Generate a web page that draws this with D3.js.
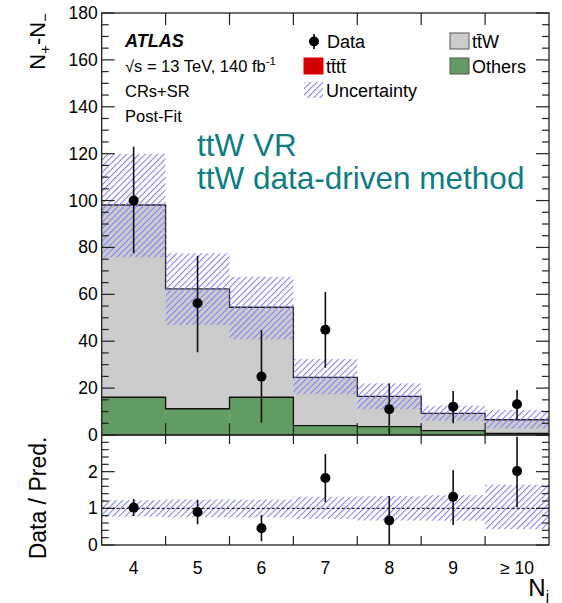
<!DOCTYPE html>
<html><head><meta charset="utf-8">
<script src="https://cdn.jsdelivr.net/npm/d3@7"></script>
<style>body{margin:0;background:#fff}svg{display:block}text{font-family:"Liberation Sans",Arial,sans-serif}</style>
</head><body>
<svg id="c" width="562" height="603"></svg>
<script>
// ---- data ----
const categories = ["4","5","6","7","8","9","\u2265 10"];
const others = [16.1, 11.2, 16.1, 4.0, 3.6, 1.9, 0.7];
const tttt   = [0.2, 0.2, 0.2, 0.2, 0.1, 0.1, 0.1];
const ttW    = [81.8, 50.9, 38.2, 20.4, 12.8, 7.2, 5.7];
const uncLo  = [75.8, 46.9, 40.8, 17.4, 11.0, 6.1, 2.8];
const uncHi  = [119.9, 77.5, 67.5, 32.4, 22.0, 12.5, 10.7];
const dataVal= [100, 56.2, 24.9, 44.9, 11.0, 12.1, 13.1];
const dataLo = [77.5, 35.3, 5.3, 28.7, 0, 5.0, 6.7];
const dataHi = [123, 76.5, 44.8, 61.0, 22.0, 18.8, 19.2];
const yTicksMain = [0,20,40,60,80,100,120,140,160,180];
const yTicksRatio = [0,1,2];

// ---- layout ----
const svg = d3.select("#c");
const L = 101.7, R = 549, T = 13, M = 435, B = 545;
const x = d3.scaleBand().domain(categories).range([L, R]).padding(0);
const y = d3.scaleLinear().domain([0, 180]).range([M, T]);
const yr = d3.scaleLinear().domain([0, 3]).range([B, M]);
const bw = x.bandwidth();

const defs = svg.append("defs");
const pat = defs.append("pattern").attr("id","hatch").attr("patternUnits","userSpaceOnUse")
  .attr("width",4.4).attr("height",10).attr("patternTransform","rotate(45)");
pat.append("rect").attr("x",0).attr("y",0).attr("width",1.05).attr("height",10).attr("fill","#7e7ef6");
defs.append("clipPath").attr("id","clipMain").append("rect").attr("x",L).attr("y",T).attr("width",R-L).attr("height",M-T);
defs.append("clipPath").attr("id","clipRatio").append("rect").attr("x",L).attr("y",M).attr("width",R-L).attr("height",B-M);

const rows = categories.map((c,i)=>({cat:c, others:others[i], tttt:tttt[i], ttW:ttW[i]}));
const keys = ["others","tttt","ttW"];
const colors = {others:"#629c62", tttt:"#d40000", ttW:"#cccccc"};
const stack = d3.stack().keys(keys)(rows);

const gMain = svg.append("g").attr("clip-path","url(#clipMain)");
stack.forEach(layer=>{
  gMain.selectAll(null).data(layer).enter().append("rect")
    .attr("x",d=>x(d.data.cat)).attr("width",bw+0.3)
    .attr("y",d=>y(d[1])).attr("height",d=>y(d[0])-y(d[1]))
    .attr("fill",colors[layer.key]);
});
// step outlines
const line = d3.line();
function stepPts(vals, sc){
  const pts=[];
  categories.forEach((c,i)=>{pts.push([x(c),sc(vals[i])]);pts.push([x(c)+bw,sc(vals[i])]);});
  return pts;
}
const totals = rows.map(r=>r.others+r.tttt+r.ttW);
gMain.append("path").attr("d",line(stepPts(others,y))).attr("fill","none").attr("stroke","#111").attr("stroke-width",1.3);
gMain.append("path").attr("d",line(stepPts(totals,y))).attr("fill","none").attr("stroke","#222").attr("stroke-width",1.3);
// uncertainty
gMain.selectAll(null).data(categories).enter().append("rect")
  .attr("x",c=>x(c)).attr("width",bw)
  .attr("y",(c,i)=>y(uncHi[i])).attr("height",(c,i)=>y(uncLo[i])-y(uncHi[i]))
  .attr("fill","url(#hatch)");
// data
categories.forEach((c,i)=>{
  const cx = x(c)+bw/2;
  gMain.append("line").attr("x1",cx).attr("x2",cx).attr("y1",y(dataLo[i])).attr("y2",y(dataHi[i]))
    .attr("stroke","#111").attr("stroke-width",1.6);
  gMain.append("circle").attr("cx",cx).attr("cy",y(dataVal[i])).attr("r",5).attr("fill","#000");
});

// ratio panel
const gR = svg.append("g").attr("clip-path","url(#clipRatio)");
gR.selectAll(null).data(categories).enter().append("rect")
  .attr("x",c=>x(c)).attr("width",bw)
  .attr("y",(c,i)=>yr(uncHi[i]/totals[i])).attr("height",(c,i)=>yr(uncLo[i]/totals[i])-yr(uncHi[i]/totals[i]))
  .attr("fill","url(#hatch)");
gR.append("line").attr("x1",L).attr("x2",R).attr("y1",yr(1)).attr("y2",yr(1))
  .attr("stroke","#000").attr("stroke-width",1).attr("stroke-dasharray","3,2");
categories.forEach((c,i)=>{
  const cx = x(c)+bw/2;
  gR.append("line").attr("x1",cx).attr("x2",cx).attr("y1",yr(dataLo[i]/totals[i])).attr("y2",yr(dataHi[i]/totals[i]))
    .attr("stroke","#111").attr("stroke-width",1.6);
  gR.append("circle").attr("cx",cx).attr("cy",yr(dataVal[i]/totals[i])).attr("r",5).attr("fill","#000");
});

// ---- axes ----
const axCol = "#222";
const edges = categories.map(c=>x(c)).concat([R]);
const gA = svg.append("g").attr("stroke",axCol).attr("stroke-width",1.2);
d3.range(0,181,5).forEach(v=>{
  const len = v%20===0 ? 13 : 7;
  gA.append("line").attr("x1",L).attr("x2",L+len).attr("y1",y(v)).attr("y2",y(v));
  gA.append("line").attr("x1",R).attr("x2",R-len).attr("y1",y(v)).attr("y2",y(v));
});
d3.range(0,3.01,0.2).forEach(v=>{
  const major = Math.abs(v-Math.round(v))<1e-6;
  const len = major ? 13 : 7;
  gA.append("line").attr("x1",L).attr("x2",L+len).attr("y1",yr(v)).attr("y2",yr(v));
  gA.append("line").attr("x1",R).attr("x2",R-len).attr("y1",yr(v)).attr("y2",yr(v));
});
edges.slice(1,-1).forEach(e=>{
  gA.append("line").attr("x1",e).attr("x2",e).attr("y1",T).attr("y2",T+12);
  gA.append("line").attr("x1",e).attr("x2",e).attr("y1",M).attr("y2",M-12);
  gA.append("line").attr("x1",e).attr("x2",e).attr("y1",M).attr("y2",M+9);
  gA.append("line").attr("x1",e).attr("x2",e).attr("y1",B).attr("y2",B-9);
});
svg.append("rect").attr("x",L).attr("y",T).attr("width",R-L).attr("height",M-T).attr("fill","none").attr("stroke",axCol).attr("stroke-width",1.3);
svg.append("rect").attr("x",L).attr("y",M).attr("width",R-L).attr("height",B-M).attr("fill","none").attr("stroke",axCol).attr("stroke-width",1.3);

// tick labels
const fs = 17.5;
svg.selectAll(null).data(yTicksMain).enter().append("text")
  .attr("x",L-4).attr("y",v=>y(v)+6).attr("text-anchor","end").attr("font-size",fs).text(v=>v);
svg.selectAll(null).data(yTicksRatio).enter().append("text")
  .attr("x",L-4).attr("y",v=>yr(v)+6).attr("text-anchor","end").attr("font-size",fs).text(v=>v);
svg.selectAll(null).data(categories).enter().append("text")
  .attr("x",c=>x(c)+bw/2).attr("y",574).attr("text-anchor","middle").attr("font-size",fs).text(c=>c);

// axis titles
const yt = svg.append("text").attr("transform",`translate(45,${T}) rotate(-90)`).attr("text-anchor","end").attr("font-size",22);
yt.append("tspan").text("N");
yt.append("tspan").attr("font-size",15).attr("dy",5).text("+");
yt.append("tspan").attr("dy",-5).text("-N");
yt.append("tspan").attr("font-size",15).attr("dy",5).text("\u2212");
svg.append("text").attr("transform",`translate(46,${(M+B)/2+8}) rotate(-90)`).attr("text-anchor","middle").attr("font-size",23).text("Data / Pred.");
const xt = svg.append("text").attr("x",R).attr("y",596).attr("text-anchor","end").attr("font-size",24);
xt.append("tspan").text("N");
xt.append("tspan").attr("font-size",15).attr("dy",5).text("j");

// labels
svg.append("text").attr("x",125).attr("y",47).attr("font-size",18).attr("font-weight","bold").attr("font-style","italic").text("ATLAS");
const lum = svg.append("text").attr("x",125).attr("y",72).attr("font-size",16.5);
lum.append("tspan").text("\u221As = 13 TeV, 140 fb");
lum.append("tspan").attr("font-size",11.5).attr("dy",-7).text("-1");
svg.append("text").attr("x",125).attr("y",97).attr("font-size",16.5).text("CRs+SR");
svg.append("text").attr("x",125).attr("y",122).attr("font-size",16.5).text("Post-Fit");
svg.append("text").attr("x",197).attr("y",156).attr("font-size",31.5).attr("fill","#107c84").text("ttW VR");
svg.append("text").attr("x",197).attr("y",189).attr("font-size",31.5).attr("fill","#107c84").text("ttW data-driven method");

// legend
const lf = 18;
svg.append("line").attr("x1",314).attr("x2",314).attr("y1",34).attr("y2",49).attr("stroke","#000").attr("stroke-width",1.6);
svg.append("circle").attr("cx",314).attr("cy",41.5).attr("r",5).attr("fill","#000");
svg.append("text").attr("x",327).attr("y",48).attr("font-size",lf).text("Data");
svg.append("rect").attr("x",304).attr("y",58).attr("width",19).attr("height",16).attr("fill","#d40000").attr("stroke","#d40000");
svg.append("text").attr("x",326).attr("y",73).attr("font-size",lf).text("tt\u0304tt\u0304");
svg.append("rect").attr("x",304).attr("y",82).attr("width",19).attr("height",16).attr("fill","url(#hatch)");
svg.append("text").attr("x",326).attr("y",97).attr("font-size",lf).text("Uncertainty");
svg.append("rect").attr("x",450).attr("y",33).attr("width",19).attr("height",16).attr("fill","#cccccc").attr("stroke","#555");
svg.append("text").attr("x",472).attr("y",48).attr("font-size",lf).text("tt\u0304W");
svg.append("rect").attr("x",450).attr("y",58).attr("width",19).attr("height",16).attr("fill","#629c62").attr("stroke","#555");
svg.append("text").attr("x",472).attr("y",73).attr("font-size",lf).text("Others");
</script>
</body></html>
